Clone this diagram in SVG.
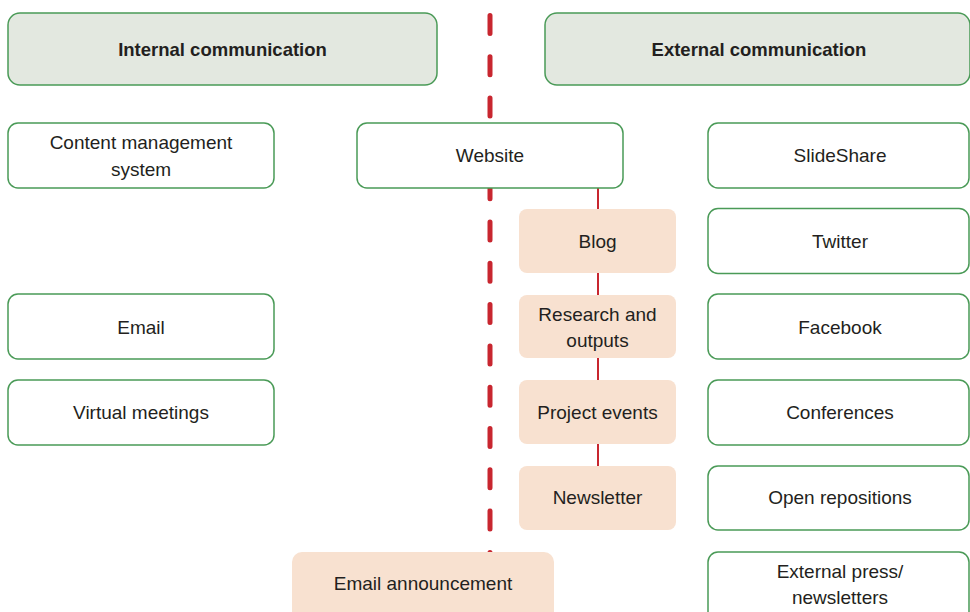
<svg xmlns="http://www.w3.org/2000/svg" width="970" height="612" viewBox="0 0 970 612">
<style>
.hdr{fill:#e3e8e0;stroke:#4a9a57;stroke-width:1.5}
.box{fill:#ffffff;stroke:#4a9a57;stroke-width:1.5}
.pch{fill:#f8e1d0}
text{font-family:"Liberation Sans",Arial,sans-serif;font-size:19px;fill:#231f20;text-anchor:middle}
.b{font-weight:bold;font-size:18.5px}
.div{stroke:#c8262f;stroke-width:5;stroke-linecap:round;stroke-dasharray:18 23.3;fill:none}
.con{stroke:#c8262f;stroke-width:2;fill:none}
</style>
<rect width="970" height="612" fill="#ffffff"/>
<g id="connectors">
<line class="div" x1="490" y1="15.5" x2="490" y2="600"/>
<line class="con" x1="598" y1="188" x2="598" y2="466"/>
</g>
<g id="internal-header"><rect class="hdr" x="8" y="13" width="429" height="72" rx="12"/><text class="b" x="222.5" y="56">Internal communication</text></g>
<g id="external-header"><rect class="hdr" x="545" y="13" width="425" height="72" rx="12"/><text class="b" x="759" y="56">External communication</text></g>
<g id="cms"><rect class="box" x="8" y="123" width="266" height="65" rx="10"/><text x="141" y="149">Content management</text><text x="141" y="176">system</text></g>
<g id="website"><rect class="box" x="357" y="123" width="266" height="65" rx="10"/><text x="490" y="162">Website</text></g>
<g id="slideshare"><rect class="box" x="708" y="123" width="261" height="65" rx="10"/><text x="840" y="162">SlideShare</text></g>
<g id="blog"><rect class="pch" x="519" y="209" width="157" height="64" rx="8"/><text x="597.5" y="248">Blog</text></g>
<g id="twitter"><rect class="box" x="708" y="208.5" width="261" height="65" rx="10"/><text x="840" y="248">Twitter</text></g>
<g id="email"><rect class="box" x="8" y="294" width="266" height="65" rx="10"/><text x="141" y="334">Email</text></g>
<g id="research"><rect class="pch" x="519" y="295" width="157" height="63" rx="8"/><text x="597.5" y="321">Research and</text><text x="597.5" y="347">outputs</text></g>
<g id="facebook"><rect class="box" x="708" y="294" width="261" height="65" rx="10"/><text x="840" y="334">Facebook</text></g>
<g id="virtual"><rect class="box" x="8" y="380" width="266" height="65" rx="10"/><text x="141" y="419">Virtual meetings</text></g>
<g id="events"><rect class="pch" x="519" y="380" width="157" height="64" rx="8"/><text x="597.5" y="419">Project events</text></g>
<g id="conferences"><rect class="box" x="708" y="380" width="261" height="65" rx="10"/><text x="840" y="419">Conferences</text></g>
<g id="newsletter"><rect class="pch" x="519" y="466" width="157" height="64" rx="8"/><text x="597.5" y="504">Newsletter</text></g>
<g id="repositions"><rect class="box" x="708" y="466" width="261" height="64" rx="10"/><text x="840" y="504">Open repositions</text></g>
<g id="email-announcement"><rect class="pch" x="292" y="552" width="262" height="70" rx="10"/><text x="423" y="590">Email announcement</text></g>
<g id="press"><rect class="box" x="708" y="552" width="261" height="70" rx="10"/><text x="840" y="578">External press/</text><text x="840" y="604">newsletters</text></g>
</svg>
